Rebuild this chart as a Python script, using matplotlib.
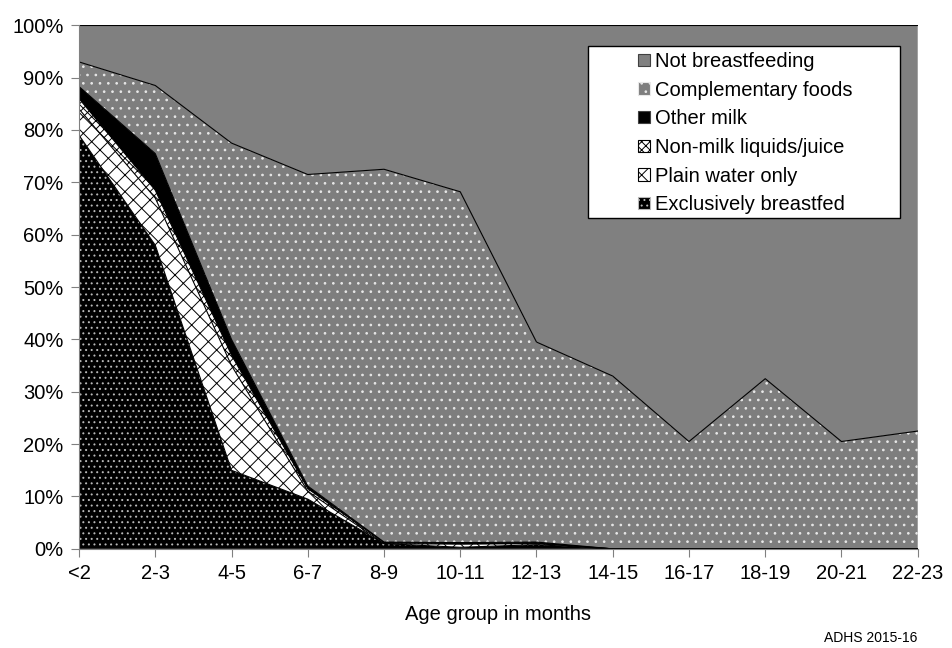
import numpy as np
import matplotlib.pyplot as plt
from matplotlib.patches import Patch, Rectangle

plt.rcParams['font.family'] = ['Liberation Sans', 'DejaVu Sans']
plt.rcParams['hatch.linewidth'] = 0.7

# age groups
ages = ['<2', '2-3', '4-5', '6-7', '8-9', '10-11', '12-13', '14-15',
        '16-17', '18-19', '20-21', '22-23']

# percent of children in each feeding group
excl_bf = [79.0, 58.0, 15.0, 9.5, 1.0, 0.3, 0.8, 0.0, 0.0, 0.0, 0.0, 0.0]
plain_water = [5.0, 9.0, 20.0, 1.5, 0.0, 0.6, 0.2, 0.0, 0.0, 0.0, 0.0, 0.0]
non_milk = [2.0, 1.5, 2.0, 0.5, 0.2, 0.1, 0.1, 0.0, 0.0, 0.0, 0.0, 0.0]
other_milk = [2.3, 7.0, 3.0, 0.5, 0.1, 0.2, 0.2, 0.0, 0.0, 0.0, 0.0, 0.0]
comp_foods = [4.7, 13.0, 37.5, 59.5, 71.2, 67.0, 38.2, 33.0, 20.5, 32.5, 20.5, 22.5]
not_bf = [100 - sum(v) for v in zip(excl_bf, plain_water, non_milk, other_milk, comp_foods)]

series = [excl_bf, plain_water, non_milk, other_milk, comp_foods, not_bf]
labels = ['Exclusively breastfed', 'Plain water only', 'Non-milk liquids/juice',
          'Other milk', 'Complementary foods', 'Not breastfeeding']
# (face, hatch colour, hatch)
styles = [('black', '#b8b8b8', '...'),
          ('white', 'black', 'xx'),
          ('white', 'black', 'xxxx'),
          ('black', 'black', ''),
          ('#7e7e7e', '#e8e8e8', '..'),
          ('#808080', '#808080', '')]

fig = plt.figure(figsize=(9.52, 6.48), dpi=100)
ax = fig.add_axes([0.083, 0.153, 0.881, 0.808])

x = np.arange(len(ages))
base = np.zeros(len(ages))
for vals, (fc, hc, h) in zip(series, styles):
    top = base + np.array(vals)
    ax.fill_between(x, base, top, facecolor=fc, edgecolor=hc, hatch=h, linewidth=0)
    ax.plot(x, top, color='black', linewidth=0.8)
    base = top

ax.set_xlim(0, len(ages) - 1)
ax.set_ylim(0, 100)
ax.set_xticks(x)
ax.set_xticklabels(ages, fontsize=14.5)
ax.set_yticks(np.arange(0, 101, 10))
ax.set_yticklabels([f'{v}%' for v in range(0, 101, 10)], fontsize=14.5)
ax.tick_params(direction='out', length=6, color='#808080', pad=5)
for s in ['top', 'right']:
    ax.spines[s].set_visible(False)
for s in ['left', 'bottom']:
    ax.spines[s].set_color('#808080')
ax.set_xlabel('Age group in months', fontsize=14.5, labelpad=16)

# legend box
ax.add_patch(Rectangle((0.607, 0.632), 0.372, 0.328, transform=ax.transAxes,
                       facecolor='white', edgecolor='black', linewidth=1.0, zorder=4))
handles = [Patch(facecolor=fc, edgecolor=hc if h else '#404040', hatch=h, linewidth=0.8)
           for fc, hc, h in styles]
leg = ax.legend(handles[::-1], labels[::-1], loc='upper left', bbox_to_anchor=(0.667, 0.949),
                fontsize=14.5, frameon=False,
                handlelength=0.55, handleheight=0.55, handletextpad=0.25,
                labelspacing=0.48, borderpad=0, borderaxespad=0)
leg.set_zorder(5)

fig.text(0.964, 0.004, 'ADHS 2015-16', ha='right', va='bottom', fontsize=10)

fig.savefig('out.png', dpi=100)
